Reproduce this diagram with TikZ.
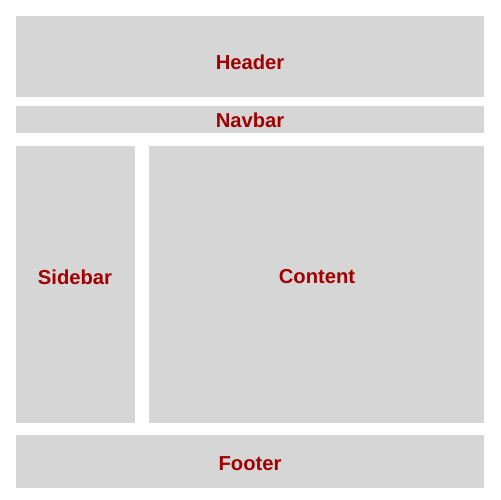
\documentclass[tikz,border=0pt]{standalone}
\usepackage{fontspec}
\setmainfont{Liberation Sans}
\definecolor{boxgray}{HTML}{D6D6D6}
\definecolor{labelred}{HTML}{A00000}
\tikzset{
  region/.style={fill=boxgray,draw=none},
  regionlabel/.style={text=labelred,font=\fontsize{11.5}{14}\selectfont\bfseries}
}
\begin{document}
\begin{tikzpicture}[x=0.02cm,y=-0.02cm]
\useasboundingbox (0,0) rectangle (500,500);

\fill[region] (16,16) rectangle (484,97);
\node[regionlabel] (header) at (250,62) {Header};

\fill[region] (16,106) rectangle (484,133);
\node[regionlabel] (navbar) at (250,120) {Navbar};

\fill[region] (16,146) rectangle (135,423);
\node[regionlabel] (sidebar) at (75,277) {Sidebar};

\fill[region] (149,146) rectangle (484,423);
\node[regionlabel] (content) at (317,277) {Content};

\fill[region] (16,435) rectangle (484,488);
\node[regionlabel] (footer) at (250,464) {Footer};
\end{tikzpicture}
\end{document}
